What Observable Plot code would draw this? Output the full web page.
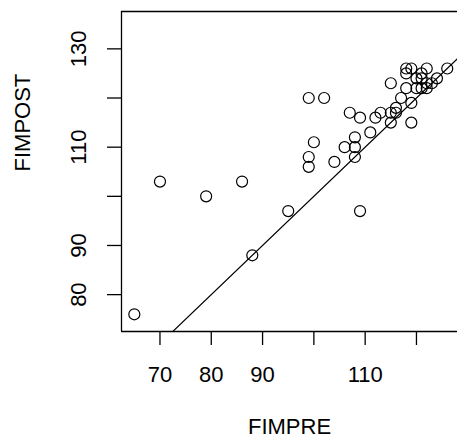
<!DOCTYPE html>
<html>
<head>
<meta charset="utf-8">
<script src="https://cdn.jsdelivr.net/npm/d3@7"></script>
<script src="https://cdn.jsdelivr.net/npm/@observablehq/plot@0.6"></script>
<style>
  html, body { margin: 0; padding: 0; background: #fff; }
</style>
</head>
<body>
<div id="chart"></div>
<script>
const fimpre  = [65, 70, 79, 86, 88, 95, 99, 102, 99, 99, 100, 104, 106, 108, 108, 108, 109, 107, 109, 111, 112, 113, 115, 116, 116, 115, 115, 117, 118, 119, 119, 118, 119, 118, 122, 121, 120, 120, 121, 121, 122, 122, 123, 124, 126];
const fimpost = [76, 103, 100, 103, 88, 97, 120, 120, 108, 106, 111, 107, 110, 110, 112, 108, 97, 117, 116, 113, 116, 117, 117, 118, 117, 115, 123, 120, 122, 119, 115, 126, 126, 125, 126, 125, 124, 122, 124, 122, 123, 122, 123, 124, 126];
const xTicks = [70, 80, 90, 100, 110, 120];
const xLabels = [70, 80, 90, 110];
const yTicks = [80, 90, 100, 110, 120, 130];
const yLabels = [80, 90, 110, 130];
const lineExtent = [60, 130];
const xDomain = [62.5, 128.0];
const yDomain = [72.5, 137.6];

const points = fimpre.map((x, i) => ({x, y: fimpost[i]}));

const chart = Plot.plot({
  width: 457,
  height: 440,
  marginLeft: 121,
  marginTop: 11,
  marginBottom: 109,
  marginRight: 0,
  style: {fontFamily: "'Liberation Sans', Arial, sans-serif", fontSize: "22px", color: "black", background: "white"},
  x: {domain: xDomain},
  y: {domain: yDomain},
  marks: [
    Plot.ruleX([xDomain[0]], {stroke: "black", strokeWidth: 1.3}),
    Plot.ruleY([yDomain[0]], {stroke: "black", strokeWidth: 1.3}),
    Plot.ruleY([yDomain[1]], {stroke: "black", strokeWidth: 1.3}),
    Plot.axisX({ticks: xTicks, tickSize: 14, tickPadding: 21, strokeWidth: 1.3,
      tickFormat: d => xLabels.includes(d) ? String(d) : "", fontSize: 22, label: null}),
    Plot.axisY({ticks: yTicks, tickSize: 14, strokeWidth: 1.3, tickFormat: () => "", label: null}),
    Plot.text(yLabels, {y: d => d, text: d => String(d), frameAnchor: "left", dx: -43, rotate: -90,
      fontSize: 22, textAnchor: "middle", lineAnchor: "middle", fill: "black"}),
    Plot.text(["FIMPRE"], {text: d => d, frameAnchor: "bottom", dy: 95, fontSize: 22, lineAnchor: "middle", fill: "black"}),
    Plot.text(["FIMPOST"], {text: d => d, frameAnchor: "left", dx: -99, rotate: -90, fontSize: 22, lineAnchor: "middle", fill: "black"}),
    Plot.line(lineExtent, {x: d => d, y: d => d, stroke: "black", strokeWidth: 1.2, clip: true}),
    Plot.dot(points, {x: "x", y: "y", r: 5.5, stroke: "black", strokeWidth: 1.2, fill: "none"})
  ]
});
document.getElementById("chart").appendChild(chart);
</script>
</body>
</html>
